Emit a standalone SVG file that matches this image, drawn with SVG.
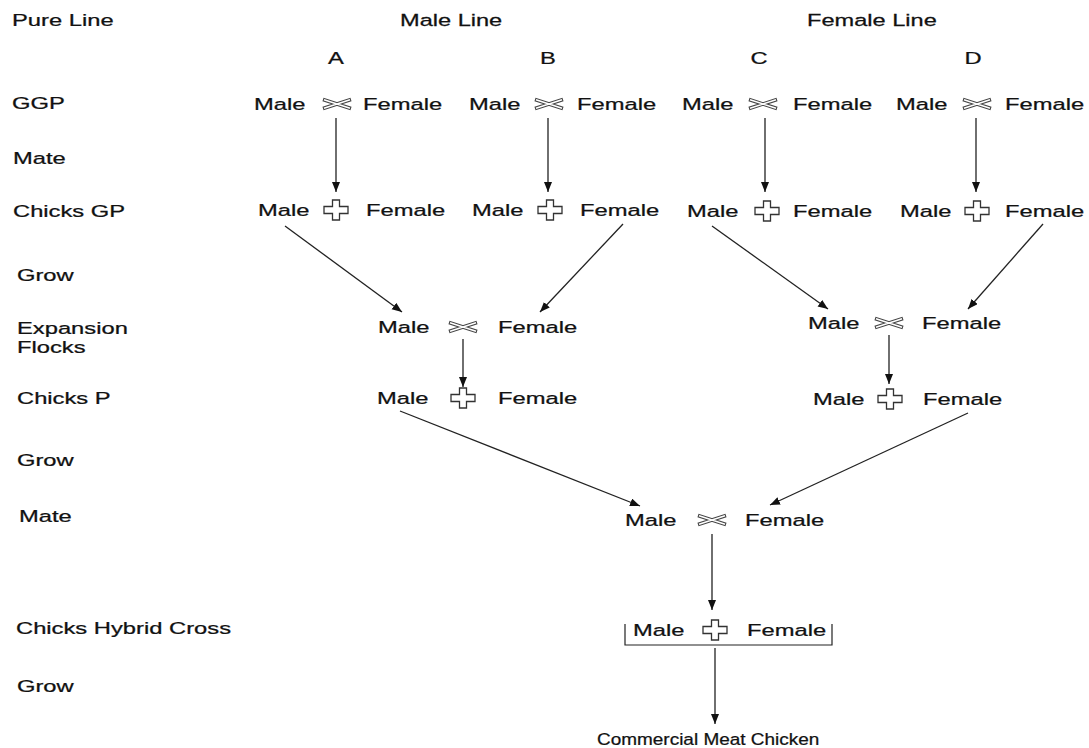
<svg xmlns="http://www.w3.org/2000/svg" width="1089" height="748" viewBox="0 0 1089 748">
<style>
text{font-family:"Liberation Sans",Arial,sans-serif;font-size:16.5px;fill:#111;stroke:#111;stroke-width:0.25}
.mid{text-anchor:middle}
.conn{stroke:#222;stroke-width:1.3;fill:none}
.xo{stroke:#444;stroke-width:3.6;fill:none}
.xi{stroke:#fff;stroke-width:1.5;fill:none}
.plus{fill:#fff;stroke:#333;stroke-width:1.3}
.br{stroke:#222;stroke-width:1.2;fill:none}
</style>
<defs>
<marker id="ah" markerUnits="userSpaceOnUse" markerWidth="11" markerHeight="9" refX="10" refY="4" orient="auto">
<path d="M0,0 L10,4 L0,8 z" fill="#111"/>
</marker>
<g id="cross">
<path class="xo" d="M-14,-4.5 L14,4.5 M-14,4.5 L14,-4.5"/>
<path class="xi" d="M-13,-4.2 L13,4.2 M-13,4.2 L13,-4.2"/>
</g>
<polygon id="plus" class="plus" points="-3.5,-10 3.5,-10 3.5,-3.5 12,-3.5 12,3.5 3.5,3.5 3.5,10 -3.5,10 -3.5,3.5 -12,3.5 -12,-3.5 -3.5,-3.5"/>
</defs>
<rect width="1089" height="748" fill="#fff"/>

<g id="row-labels">
<text transform="translate(12,26) scale(1.44,1)">Pure Line</text>
<text transform="translate(12,109) scale(1.44,1)">GGP</text>
<text transform="translate(13,164) scale(1.44,1)">Mate</text>
<text transform="translate(13,217) scale(1.44,1)">Chicks GP</text>
<text transform="translate(17,281) scale(1.44,1)">Grow</text>
<text transform="translate(17,334) scale(1.44,1)">Expansion</text>
<text transform="translate(17,353) scale(1.44,1)">Flocks</text>
<text transform="translate(17,404) scale(1.44,1)">Chicks P</text>
<text transform="translate(17,466) scale(1.44,1)">Grow</text>
<text transform="translate(19,522) scale(1.44,1)">Mate</text>
<text transform="translate(16,634) scale(1.44,1)">Chicks Hybrid Cross</text>
<text transform="translate(17,692) scale(1.44,1)">Grow</text>
</g>

<g id="headers">
<text transform="translate(400,26) scale(1.43,1)">Male Line</text>
<text transform="translate(807,26) scale(1.43,1)">Female Line</text>
<text class="mid" transform="translate(336,64) scale(1.44,1)">A</text>
<text class="mid" transform="translate(548,64) scale(1.44,1)">B</text>
<text class="mid" transform="translate(759,64) scale(1.44,1)">C</text>
<text class="mid" transform="translate(973,64) scale(1.44,1)">D</text>
</g>

<g id="ggp-a">
<text transform="translate(254,110) scale(1.44,1)">Male</text>
<use href="#cross" x="337" y="104"/>
<text transform="translate(363,110) scale(1.44,1)">Female</text>
</g>
<g id="ggp-b">
<text transform="translate(469,110) scale(1.44,1)">Male</text>
<use href="#cross" x="549" y="104"/>
<text transform="translate(577,110) scale(1.44,1)">Female</text>
</g>
<g id="ggp-c">
<text transform="translate(682,110) scale(1.44,1)">Male</text>
<use href="#cross" x="763" y="104"/>
<text transform="translate(793,110) scale(1.44,1)">Female</text>
</g>
<g id="ggp-d">
<text transform="translate(896,110) scale(1.44,1)">Male</text>
<use href="#cross" x="977" y="104"/>
<text transform="translate(1005,110) scale(1.44,1)">Female</text>
</g>

<g id="gp-a">
<text transform="translate(258,216) scale(1.44,1)">Male</text>
<use href="#plus" x="336" y="210"/>
<text transform="translate(366,216) scale(1.44,1)">Female</text>
</g>
<g id="gp-b">
<text transform="translate(472,216) scale(1.44,1)">Male</text>
<use href="#plus" x="550" y="210"/>
<text transform="translate(580,216) scale(1.44,1)">Female</text>
</g>
<g id="gp-c">
<text transform="translate(687,217) scale(1.44,1)">Male</text>
<use href="#plus" x="767" y="211"/>
<text transform="translate(793,217) scale(1.44,1)">Female</text>
</g>
<g id="gp-d">
<text transform="translate(900,217) scale(1.44,1)">Male</text>
<use href="#plus" x="977" y="211"/>
<text transform="translate(1005,217) scale(1.44,1)">Female</text>
</g>

<g id="exp-left">
<text transform="translate(378,333) scale(1.44,1)">Male</text>
<use href="#cross" x="463" y="327"/>
<text transform="translate(498,333) scale(1.44,1)">Female</text>
</g>
<g id="exp-right">
<text transform="translate(808,329) scale(1.44,1)">Male</text>
<use href="#cross" x="889" y="323"/>
<text transform="translate(922,329) scale(1.44,1)">Female</text>
</g>

<g id="p-left">
<text transform="translate(377,404) scale(1.44,1)">Male</text>
<use href="#plus" x="463" y="398"/>
<text transform="translate(498,404) scale(1.44,1)">Female</text>
</g>
<g id="p-right">
<text transform="translate(813,405) scale(1.44,1)">Male</text>
<use href="#plus" x="890" y="399"/>
<text transform="translate(923,405) scale(1.44,1)">Female</text>
</g>

<g id="mate">
<text transform="translate(625,526) scale(1.44,1)">Male</text>
<use href="#cross" x="712" y="520"/>
<text transform="translate(745,526) scale(1.44,1)">Female</text>
</g>

<g id="hybrid">
<text transform="translate(633,636) scale(1.44,1)">Male</text>
<use href="#plus" x="715" y="630"/>
<text transform="translate(747,636) scale(1.44,1)">Female</text>
<path class="br" d="M625,624 V645 H832 V624"/>
</g>

<g id="commercial">
<text transform="translate(597,745) scale(1.15,1)">Commercial Meat Chicken</text>
</g>

<g id="connectors">
<line class="conn" x1="336" y1="118" x2="336" y2="192" marker-end="url(#ah)"/>
<line class="conn" x1="548" y1="118" x2="548" y2="192" marker-end="url(#ah)"/>
<line class="conn" x1="765" y1="118" x2="765" y2="192" marker-end="url(#ah)"/>
<line class="conn" x1="976" y1="118" x2="976" y2="192" marker-end="url(#ah)"/>
<line class="conn" x1="285" y1="226" x2="402" y2="312" marker-end="url(#ah)"/>
<line class="conn" x1="623" y1="224" x2="540" y2="312" marker-end="url(#ah)"/>
<line class="conn" x1="712" y1="226" x2="828" y2="309" marker-end="url(#ah)"/>
<line class="conn" x1="1043" y1="224" x2="968" y2="309" marker-end="url(#ah)"/>
<line class="conn" x1="463" y1="339" x2="463" y2="387" marker-end="url(#ah)"/>
<line class="conn" x1="889" y1="335" x2="889" y2="384" marker-end="url(#ah)"/>
<line class="conn" x1="400" y1="411" x2="640" y2="506" marker-end="url(#ah)"/>
<line class="conn" x1="968" y1="413" x2="770" y2="505" marker-end="url(#ah)"/>
<line class="conn" x1="712" y1="534" x2="712" y2="610" marker-end="url(#ah)"/>
<line class="conn" x1="715" y1="648" x2="715" y2="724" marker-end="url(#ah)"/>
</g>
</svg>
